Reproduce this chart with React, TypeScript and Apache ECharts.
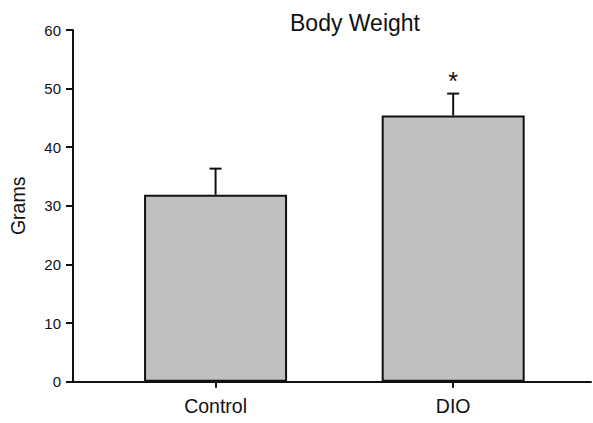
import React, { useEffect, useRef } from "react";
import * as echarts from "echarts";

const categories = ["Control", "DIO"];
const means = [31.9, 45.4];
const errors = [4.45, 3.75];
const significance = ["", "*"];
const yTicks = [0, 10, 20, 30, 40, 50, 60];

export default function App() {
  const ref = useRef<HTMLDivElement>(null);
  useEffect(() => {
    document.body.style.margin = "0";
    if (!ref.current) return;
    const chart = echarts.init(ref.current, null, { renderer: "svg" });
    const positions = categories.map((_, i) => i + 1);
    const font = "'Liberation Sans', Arial, sans-serif";
    chart.setOption({
      animation: false,
      title: {
        text: "Body Weight",
        left: 350,
        top: 6,
        textAlign: "center",
        textStyle: { fontFamily: font, fontSize: 23, fontWeight: "normal", color: "#111" },
      },
      grid: { left: 70, top: 30, right: 2, bottom: 41.3 },
      xAxis: {
        type: "value",
        min: 0.4,
        max: 2.58,
        splitLine: { show: false },
        axisLine: { show: true, lineStyle: { color: "#111", width: 2 } },
        axisTick: {
          show: true,
          customValues: positions,
          length: 6,
          lineStyle: { color: "#111", width: 2 },
        },
        axisLabel: {
          customValues: positions,
          formatter: (v: number) => categories[Math.round(v) - 1] ?? "",
          fontFamily: font,
          fontSize: 19.5,
          color: "#111",
          margin: 14,
        },
      },
      yAxis: {
        type: "value",
        min: 0,
        max: 60,
        interval: 10,
        name: "Grams",
        nameLocation: "middle",
        nameRotate: 90,
        nameGap: 45,
        nameTextStyle: { fontFamily: font, fontSize: 19.5, color: "#111" },
        splitLine: { show: false },
        axisLine: { show: true, lineStyle: { color: "#111", width: 2 } },
        axisTick: { show: true, length: 7, lineStyle: { color: "#111", width: 2 } },
        axisLabel: {
          fontFamily: font,
          fontSize: 15,
          color: "#111",
          margin: 12,
          formatter: (v: number) => (yTicks.includes(v) ? String(v) : ""),
        },
      },
      series: [
        {
          type: "bar",
          data: positions.map((p, i) => [p, means[i]]),
          barWidth: 143,
          itemStyle: { color: "#c0c0c0", borderColor: "#111", borderWidth: 2 },
          z: 2,
        },
        {
          type: "custom",
          data: positions.map((p, i) => [p, means[i], errors[i], i]),
          z: 3,
          renderItem: (params: any, api: any) => {
            const x = api.value(0);
            const m = api.value(1);
            const e = api.value(2);
            const idx = api.value(3);
            const base = api.coord([x, m]);
            const top = api.coord([x, m + e]);
            const children: any[] = [
              {
                type: "line",
                shape: { x1: base[0], y1: base[1], x2: top[0], y2: top[1] },
                style: { stroke: "#111", lineWidth: 2 },
              },
              {
                type: "line",
                shape: { x1: top[0] - 6, y1: top[1], x2: top[0] + 6, y2: top[1] },
                style: { stroke: "#111", lineWidth: 2 },
              },
            ];
            const sig = significance[idx];
            if (sig) {
              children.push({
                type: "text",
                x: top[0],
                y: top[1] - 13,
                style: {
                  text: sig,
                  fontFamily: font,
                  fontSize: 25,
                  fill: "#111",
                  align: "center",
                  verticalAlign: "middle",
                },
              });
            }
            return { type: "group", children };
          },
        },
      ],
    });
    return () => chart.dispose();
  }, []);
  return <div ref={ref} style={{ width: 593, height: 423 }} />;
}
